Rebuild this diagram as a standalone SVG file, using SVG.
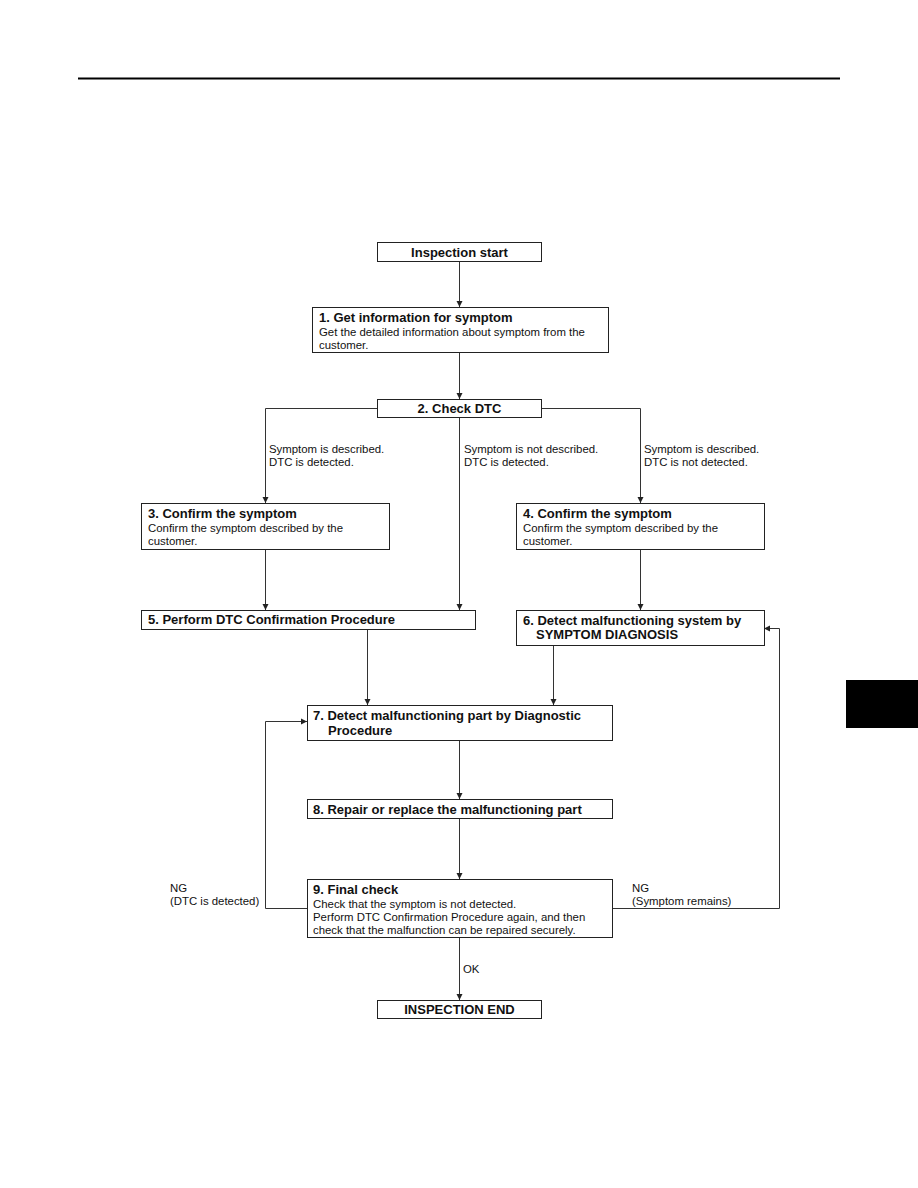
<svg xmlns="http://www.w3.org/2000/svg" width="918" height="1188" viewBox="0 0 918 1188">
<defs>
<marker id="ah" markerWidth="6" markerHeight="7" refX="6" refY="3.5" orient="auto" markerUnits="userSpaceOnUse">
<path d="M0,0.5 L6,3.5 L0,6.5 Z" fill="#222"/>
</marker>
<style>
.box{fill:#fff;stroke:#222;stroke-width:1}
.t{font-family:"Liberation Sans",Arial,sans-serif;font-weight:bold;font-size:13px;fill:#111}
.b{font-family:"Liberation Sans",Arial,sans-serif;font-size:11.4px;fill:#111}
.c{text-anchor:middle}
.ln{fill:none;stroke:#333;stroke-width:1}
</style>
</defs>
<rect width="918" height="1188" fill="#fff"/>
<line x1="78" y1="78.5" x2="840" y2="78.5" stroke="#000" stroke-width="2"/>
<rect x="846" y="680" width="72" height="48" fill="#000"/>

<g id="connectors">
<path class="ln" d="M459.5,261 V307" marker-end="url(#ah)"/>
<path class="ln" d="M459.5,352 V399" marker-end="url(#ah)"/>
<path class="ln" d="M377,408.5 H265.5 V503" marker-end="url(#ah)"/>
<path class="ln" d="M542,408.5 H640.5 V503" marker-end="url(#ah)"/>
<path class="ln" d="M459.5,417 V610" marker-end="url(#ah)"/>
<path class="ln" d="M265.5,549 V610" marker-end="url(#ah)"/>
<path class="ln" d="M640.5,549 V610" marker-end="url(#ah)"/>
<path class="ln" d="M367.5,629 V705" marker-end="url(#ah)"/>
<path class="ln" d="M553.5,645 V705" marker-end="url(#ah)"/>
<path class="ln" d="M459.5,740 V799" marker-end="url(#ah)"/>
<path class="ln" d="M459.5,818 V879" marker-end="url(#ah)"/>
<path class="ln" d="M307,908.5 H265.5 V721.5 H307" marker-end="url(#ah)"/>
<path class="ln" d="M612,908.5 H779.5 V628.5 H764" marker-end="url(#ah)"/>
<path class="ln" d="M459.5,937 V1000" marker-end="url(#ah)"/>
<text class="b" x="269" y="453">Symptom is described.</text>
<text class="b" x="269" y="466">DTC is detected.</text>
<text class="b" x="464" y="453">Symptom is not described.</text>
<text class="b" x="464" y="466">DTC is detected.</text>
<text class="b" x="644" y="453">Symptom is described.</text>
<text class="b" x="644" y="466">DTC is not detected.</text>
<text class="b" x="170" y="892">NG</text>
<text class="b" x="170" y="905">(DTC is detected)</text>
<text class="b" x="632" y="892">NG</text>
<text class="b" x="632" y="905">(Symptom remains)</text>
<text class="b" x="463" y="973">OK</text>
</g>

<g id="start">
<rect class="box" x="377.5" y="242.5" width="164" height="19"/>
<text class="t c" x="459.5" y="257">Inspection start</text>
</g>
<g id="step1">
<rect class="box" x="312.5" y="307.5" width="296" height="45"/>
<text class="t" x="319" y="322">1. Get information for symptom</text>
<text class="b" x="319" y="336">Get the detailed information about symptom from the</text>
<text class="b" x="319" y="349">customer.</text>
</g>
<g id="step2">
<rect class="box" x="377.5" y="399.5" width="164" height="18"/>
<text class="t c" x="459.5" y="413">2. Check DTC</text>
</g>
<g id="step3">
<rect class="box" x="141.5" y="503.5" width="248" height="46"/>
<text class="t" x="148" y="518">3. Confirm the symptom</text>
<text class="b" x="148" y="532">Confirm the symptom described by the</text>
<text class="b" x="148" y="545">customer.</text>
</g>
<g id="step4">
<rect class="box" x="516.5" y="503.5" width="248" height="46"/>
<text class="t" x="523" y="518">4. Confirm the symptom</text>
<text class="b" x="523" y="532">Confirm the symptom described by the</text>
<text class="b" x="523" y="545">customer.</text>
</g>
<g id="step5">
<rect class="box" x="141.5" y="610.5" width="334" height="19"/>
<text class="t" x="148" y="624">5. Perform DTC Confirmation Procedure</text>
</g>
<g id="step6">
<rect class="box" x="516.5" y="610.5" width="248" height="35"/>
<text class="t" x="523" y="625">6. Detect malfunctioning system by</text>
<text class="t" x="536" y="639">SYMPTOM DIAGNOSIS</text>
</g>
<g id="step7">
<rect class="box" x="307.5" y="705.5" width="305" height="35"/>
<text class="t" x="313" y="720">7. Detect malfunctioning part by Diagnostic</text>
<text class="t" x="328" y="735">Procedure</text>
</g>
<g id="step8">
<rect class="box" x="307.5" y="799.5" width="305" height="19"/>
<text class="t" x="313" y="814">8. Repair or replace the malfunctioning part</text>
</g>
<g id="step9">
<rect class="box" x="307.5" y="879.5" width="305" height="58"/>
<text class="t" x="313" y="894">9. Final check</text>
<text class="b" x="313" y="908">Check that the symptom is not detected.</text>
<text class="b" x="313" y="921">Perform DTC Confirmation Procedure again, and then</text>
<text class="b" x="313" y="934">check that the malfunction can be repaired securely.</text>
</g>
<g id="end">
<rect class="box" x="377.5" y="1000.5" width="164" height="18"/>
<text class="t c" x="459.5" y="1014">INSPECTION END</text>
</g>
</svg>
